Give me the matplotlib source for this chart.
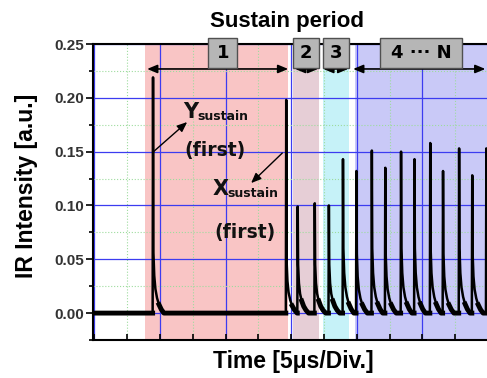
import numpy as np
import matplotlib.pyplot as plt
from matplotlib.patches import Rectangle
from matplotlib.ticker import MultipleLocator

# IR trace: spike times [div], spike heights and afterglow shoulder heights [a.u.]
peak_t = [1.79, 5.85, 6.20, 6.72, 7.15, 7.58, 7.99, 8.46, 8.87, 9.35,
          9.76, 10.24, 10.63, 11.12, 11.52, 11.95]
peak_h = [0.219, 0.198, 0.099, 0.102, 0.100, 0.143, 0.132, 0.151, 0.135, 0.150,
          0.143, 0.158, 0.132, 0.153, 0.128, 0.153]
shoulder_h = [0.056, 0.048, 0.045, 0.045, 0.045, 0.060, 0.055, 0.060, 0.055, 0.060,
              0.060, 0.060, 0.055, 0.060, 0.055, 0.060]
# decay of the afterglow after each spike (offset in div, fraction of shoulder)
decay_dt = [0.0, 0.025, 0.06, 0.11, 0.17, 0.24, 0.32]
decay_frac = [1.0, 0.62, 0.4, 0.25, 0.14, 0.06, 0.0]

# sustain sub-periods
periods = [(1.55, 5.91), (6.06, 6.85), (6.98, 7.77), (7.95, 12.5)]
period_colors = ['#f9c5c5', '#e6ced6', '#c6f2f8', '#c9c9f7']
period_names = ['1', '2', '3', '4 \u00b7\u00b7\u00b7 N']
box_spans = [(3.48, 4.36), (6.06, 6.85), (6.98, 7.77), (8.71, 11.21)]
arrow_spans = [(1.61, 5.91), (6.12, 6.82), (6.98, 7.74), (7.89, 11.92)]

yticks = [0.00, 0.05, 0.10, 0.15, 0.20, 0.25]

# build the trace
tx, ty = [-0.1], [0.0]
for t, h, s in zip(peak_t, peak_h, shoulder_h):
    tx += [t - 0.012, t, t + 0.012]
    ty += [0.0, h, s]
    for d, f in zip(decay_dt[1:], decay_frac[1:]):
        tx.append(t + 0.012 + d)
        ty.append(s * f)
tx.append(12.5)
ty.append(0.0)
tx = np.array(tx)
ty = np.array(ty)

fig = plt.figure(figsize=(4.87, 3.78), dpi=100)
ax = fig.add_axes([93 / 487, 38 / 378, 1 - 93 / 487, 296 / 378])
ax.set_xlim(-0.04, 11.97)
ax.set_ylim(-0.025, 0.25)

for (a, b), c in zip(periods, period_colors):
    ax.axvspan(a, b, color=c, lw=0, zorder=1)

ax.xaxis.set_major_locator(MultipleLocator(2))
ax.xaxis.set_minor_locator(MultipleLocator(1))
ax.set_yticks(yticks)
ax.yaxis.set_minor_locator(MultipleLocator(0.025))
ax.set_axisbelow('line')
ax.grid(which='major', color='#3c3cf0', lw=0.9)
ax.grid(which='minor', color='#9edc9e', lw=0.8, linestyle=':')

ax.tick_params(axis='x', which='both', direction='in', length=4, width=1.2,
               labelbottom=False)
ax.tick_params(axis='y', which='major', direction='out', length=5, width=1.2, pad=1.5)
ax.tick_params(axis='y', which='minor', direction='out', length=3, width=1.2)
ax.set_yticklabels(['%.2f' % v for v in yticks], fontfamily='Liberation Sans',
                   fontweight='bold', fontsize=11, color='#333333')
for side in ['left', 'bottom', 'top']:
    ax.spines[side].set_linewidth(1.5)
ax.spines['right'].set_visible(False)

ax.plot(tx, ty, color='black', lw=1.8, zorder=3)
ax.plot(tx, np.where(ty < 0.012, ty, np.nan), color='black', lw=3.5, zorder=3)

# period boxes and double arrows
for (a, b), name in zip(box_spans, period_names):
    ax.add_patch(Rectangle((a, 0.2277), b - a, 0.0279, facecolor='#b6b6b6',
                           edgecolor='#505050', lw=1, clip_on=False, zorder=5))
    ax.text((a + b) / 2, 0.2418, name, ha='center', va='center', fontsize=13,
            fontweight='bold', zorder=6)
for a, b in arrow_spans:
    ax.annotate('', xy=(b, 0.2268), xytext=(a, 0.2268),
                arrowprops=dict(arrowstyle='<|-|>,head_length=0.6,head_width=0.25',
                                mutation_scale=10, lw=1.2, color='black',
                                shrinkA=0, shrinkB=0), zorder=4)

# annotations of the first sustain pulses
tf = dict(fontweight='bold', color='#111111')
ax.text(2.71, 0.1812, 'Y', fontsize=15, **tf)
ax.text(3.13, 0.1794, 'sustain', fontsize=9, **tf)
ax.text(3.68, 0.1506, '(first)', fontsize=13.5, ha='center', va='center', **tf)
ax.text(3.62, 0.1097, 'X', fontsize=15, **tf)
ax.text(4.05, 0.1078, 'sustain', fontsize=9, **tf)
ax.text(4.60, 0.0753, '(first)', fontsize=13.5, ha='center', va='center', **tf)
head = dict(arrowstyle='-|>,head_length=0.6,head_width=0.25', mutation_scale=10,
            lw=1, color='black', shrinkA=0, shrinkB=0)
ax.annotate('', xy=(2.83, 0.1775), xytext=(1.79, 0.1496), arrowprops=head, zorder=4)
ax.annotate('', xy=(4.78, 0.1208), xytext=(5.73, 0.1487), arrowprops=head, zorder=4)

fig.text(287 / 487, 1 - 27 / 378, 'Sustain period', ha='center', va='baseline',
         fontfamily='Liberation Sans', fontweight='bold', fontsize=16)
fig.text(27 / 487, 1 - 185.5 / 378, 'IR Intensity [a.u.]', rotation=90,
         ha='center', va='center', fontfamily='Liberation Sans',
         fontweight='bold', fontsize=16.5)
fig.text(293 / 487, 10 / 378, 'Time [5\u03bcs/Div.]', ha='center', va='baseline',
         fontfamily='Liberation Sans', fontweight='bold', fontsize=16.5)

fig.savefig('out.png', dpi=100)
